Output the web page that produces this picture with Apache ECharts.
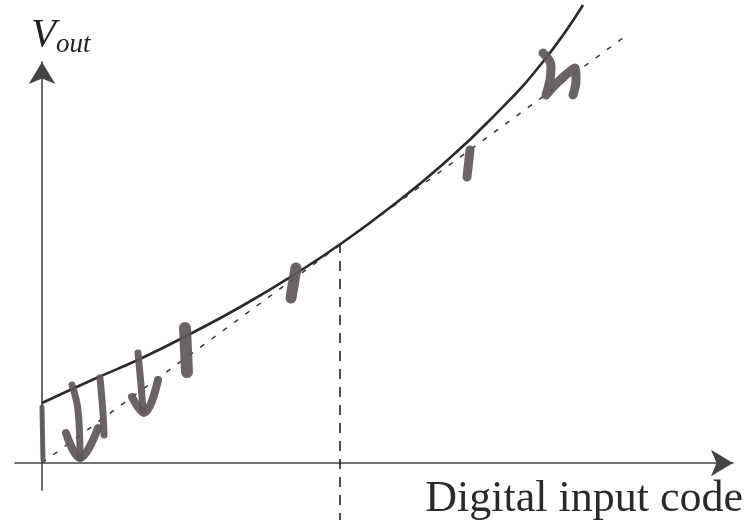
<!DOCTYPE html>
<html>
<head>
<meta charset="utf-8">
<script src="https://cdn.jsdelivr.net/npm/echarts@6/dist/echarts.min.js"></script>
<style>
  html, body { margin: 0; padding: 0; background: #fff; }
  #chart { width: 753px; height: 528px; }
</style>
</head>
<body>
<div id="chart"></div>
<script>
// sketch units: x = input code, y = Vout (no tick scale on the original)
var curveX = [0, 50, 100, 150, 200, 250, 300, 350, 400, 450, 500, 541];
var curveY = [60, 83, 105, 130, 157, 187, 220, 257, 298, 345, 400, 458];

var idealX = [0, 581];
var idealY = [0, 425];

var midX = [298, 298];
var midY = [220, -57];

// pen marks scribbled on the printout
var penStrokes = [
  [[0, 56], [1, 3]],
  [[30, 78], [36, 53], [38, 5]],
  [[24, 30], [38, 5], [56, 35]],
  [[58, 85], [61, 50], [62, 28]],
  [[96, 110], [99, 78], [101, 53]],
  [[90, 66], [102, 50], [116, 83]],
  [[143, 135], [145, 91]],
  [[254, 195], [249, 165]],
  [[428, 313], [425, 286]],
  [[501, 410], [509, 397], [508, 383], [504, 368], [518, 383], [533, 395], [534, 383], [531, 368]]
];
var penWidths = [5, 7, 8, 7, 7, 8, 12, 11, 9, 9];

function zip(xs, ys) {
  var out = [];
  for (var i = 0; i < xs.length; i++) out.push([xs[i], ys[i]]);
  return out;
}

var chart = echarts.init(document.getElementById('chart'));

var series = [
  {
    type: 'line',
    data: zip(idealX, idealY),
    symbol: 'none',
    clip: false,
    silent: true,
    lineStyle: { color: '#333', width: 1.5, type: [5, 9] }
  },
  {
    type: 'line',
    data: zip(midX, midY),
    symbol: 'none',
    clip: false,
    silent: true,
    lineStyle: { color: '#222', width: 1.6, type: [10, 8] }
  },
  {
    type: 'line',
    data: zip(curveX, curveY),
    smooth: true,
    symbol: 'none',
    clip: false,
    silent: true,
    lineStyle: { color: '#2a2a2a', width: 2.6 }
  }
];

for (var i = 0; i < penStrokes.length; i++) {
  series.push({
    type: 'line',
    data: penStrokes[i],
    smooth: 0.4,
    symbol: 'none',
    clip: false,
    silent: true,
    lineStyle: { color: '#5d565b', width: penWidths[i], cap: 'round', join: 'round', opacity: 0.92 }
  });
}

var option = {
  animation: false,
  backgroundColor: '#fff',
  grid: { left: 15, right: 20, top: 62, bottom: 38 },
  xAxis: {
    type: 'value',
    min: -27,
    max: 691,
    axisLine: {
      onZero: true,
      symbol: ['none', 'arrow'],
      symbolSize: [20, 22],
      lineStyle: { color: '#444', width: 1.6 }
    },
    axisTick: { show: false },
    axisLabel: { show: false },
    splitLine: { show: false }
  },
  yAxis: {
    type: 'value',
    min: -27,
    max: 401,
    axisLine: {
      onZero: true,
      symbol: ['none', 'arrow'],
      symbolSize: [20, 22],
      lineStyle: { color: '#444', width: 1.6 }
    },
    axisTick: { show: false },
    axisLabel: { show: false },
    splitLine: { show: false }
  },
  graphic: [
    {
      type: 'text',
      left: 31,
      top: 15,
      style: {
        text: 'V',
        fontFamily: 'Liberation Serif',
        fontStyle: 'italic',
        fontSize: 41,
        fill: '#222'
      }
    },
    {
      type: 'text',
      left: 56,
      top: 31,
      style: {
        text: 'out',
        fontFamily: 'Liberation Serif',
        fontStyle: 'italic',
        fontSize: 27,
        fill: '#222'
      }
    },
    {
      type: 'text',
      right: 10,
      top: 477,
      style: {
        text: 'Digital input code',
        fontFamily: 'Liberation Serif',
        fontSize: 44,
        fill: '#2a2a2a'
      }
    }
  ],
  series: series
};

chart.setOption(option);
</script>
</body>
</html>
